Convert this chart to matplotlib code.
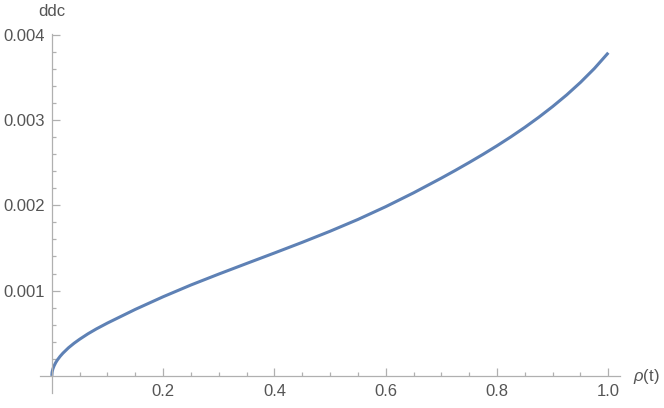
import matplotlib
matplotlib.use("Agg")
import matplotlib.pyplot as plt
from matplotlib.ticker import FixedLocator

plt.rcParams['font.family'] = ['Liberation Sans', 'DejaVu Sans']
plt.rcParams['mathtext.fontset'] = 'custom'
plt.rcParams['mathtext.it'] = 'Liberation Sans:italic'
plt.rcParams['mathtext.rm'] = 'Liberation Sans'

rho = [0, 0.0005, 0.001, 0.002, 0.004, 0.007, 0.01, 0.015, 0.02, 0.03, 0.04,
       0.05, 0.065, 0.08, 0.1, 0.15, 0.2, 0.25, 0.3, 0.35, 0.4, 0.45, 0.5,
       0.55, 0.6, 0.65, 0.7, 0.725, 0.75, 0.775, 0.8, 0.825, 0.85, 0.875,
       0.9, 0.925, 0.95, 0.975, 1.0]
# ddc values in units of 1e-5
ddc_e5 = [0, 4.1, 5.8, 8.3, 11.7, 15.6, 18.7, 23.0, 26.7, 33.0, 38.3,
          43.0, 49.4, 55.1, 62.0, 78.0, 92.8, 106.6, 119.4, 131.8, 144.1,
          156.6, 169.6, 183.4, 198.4, 214.6, 231.9, 240.9, 250.2, 259.8,
          269.8, 280.3, 291.4, 303.2, 315.8, 329.3, 344.1, 360.4, 378.8]
ddc = [v * 1e-5 for v in ddc_e5]

x_ticks = [0.2, 0.4, 0.6, 0.8, 1.0]
x_labels = ["0.2", "0.4", "0.6", "0.8", "1.0"]
y_ticks = [0.001, 0.002, 0.003, 0.004]
y_labels = ["0.001", "0.002", "0.003", "0.004"]

W, H = 664, 408
fig = plt.figure(figsize=(W / 100, H / 100), dpi=100)
left, right, top, bottom = 40, 620, 34.0, 393
ax = fig.add_axes([left / W, (H - bottom) / H, (right - left) / W, (bottom - top) / H])

ax.plot(rho, ddc, color='#5E81B5', lw=2.2, solid_capstyle='butt',
        solid_joinstyle='round', clip_on=False)

ax.set_xlim(-0.0212, 1.021)
ax.set_ylim(-0.0002, 0.004008)

axis_col = '#b0b0b0'
for s in ['top', 'right']:
    ax.spines[s].set_visible(False)
ax.spines['left'].set_position(('data', 0))
ax.spines['bottom'].set_position(('data', 0))
for s in ['left', 'bottom']:
    ax.spines[s].set_color(axis_col)
    ax.spines[s].set_linewidth(0.9)

ax.xaxis.set_major_locator(FixedLocator(x_ticks))
ax.set_xticklabels(x_labels)
ax.yaxis.set_major_locator(FixedLocator(y_ticks))
ax.set_yticklabels(y_labels)
ax.xaxis.set_minor_locator(FixedLocator([v / 20 for v in range(1, 21) if v % 4 != 0]))
ax.yaxis.set_minor_locator(FixedLocator([v * 0.0002 for v in range(1, 20) if v % 5 != 0]))

ax.tick_params(which='both', direction='in', color=axis_col, labelcolor='#555555',
               labelsize=12, width=0.9)
ax.tick_params(which='major', length=5.5)
ax.tick_params(which='minor', length=3)
ax.tick_params(axis='x', which='major', pad=6)
ax.tick_params(axis='y', which='major', pad=5)

fig.text(52 / W, 1 - 12 / H, "ddc", ha='center', va='center', fontsize=12, color='#555555')
fig.text(633 / W, 1 - 376 / H, r"$\it{\rho}$(t)", ha='left', va='center', fontsize=12, color='#555555')

fig.savefig("out.png", dpi=100)
